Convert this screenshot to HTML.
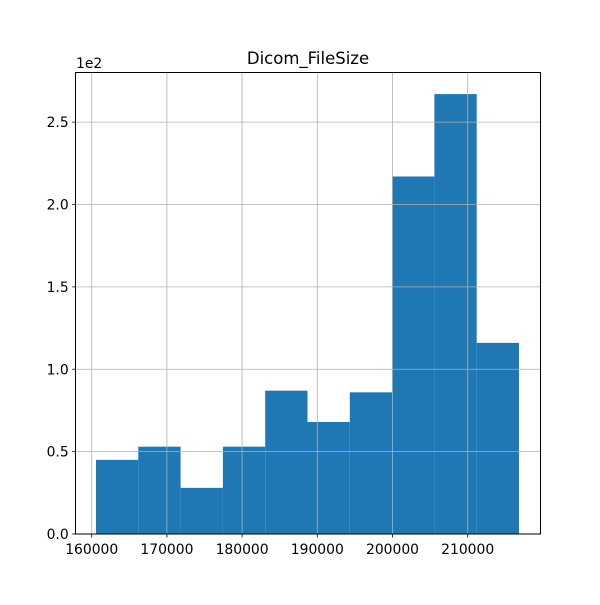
<!DOCTYPE html>
<html><head><meta charset="utf-8"><style>
body{margin:0;background:#fff}
svg text{font-family:"DejaVu Sans","Liberation Sans",sans-serif;font-size:13.9px;fill:#000}
</style></head><body>
<svg id="chart" width="600" height="600" viewBox="0 0 600 600" xmlns="http://www.w3.org/2000/svg">
<rect width="600" height="600" fill="#fff"/>
<g id="bars"></g>
<g id="grid"></g>
<g id="ticks"></g>
<rect x="75.5" y="72.5" width="465" height="461.5" fill="none" stroke="#000" stroke-width="1"/>
<text x="308" y="64" text-anchor="middle" font-size="16" style="font-size:16.5px">Dicom_FileSize</text>
<text x="76" y="68">1e2</text>
</svg>
<script>
const counts = [45, 53, 28, 53, 87, 68, 86, 217, 267, 116];
const binStart = 160570;
const binEnd = 216820;
const xTicks = [160000, 170000, 180000, 190000, 200000, 210000];
const yTicks = [0, 50, 100, 150, 200, 250];
const yTickLabels = ["0.0", "0.5", "1.0", "1.5", "2.0", "2.5"];

const L = 75.7, R = 540.3, T = 72.7, B = 534;
const xMin = 157870, xMax = 219655, yMax = 280;
const xs = v => L + (v - xMin) / (xMax - xMin) * (R - L);
const ys = v => B - v / yMax * (B - T);
const NS = "http://www.w3.org/2000/svg";
function mk(tag, attrs, parent) {
  const e = document.createElementNS(NS, tag);
  for (const k in attrs) e.setAttribute(k, attrs[k]);
  parent.appendChild(e);
  return e;
}
const bars = document.getElementById("bars");
const grid = document.getElementById("grid");
const ticks = document.getElementById("ticks");
const w = (binEnd - binStart) / counts.length;
counts.forEach((c, i) => {
  const x0 = xs(binStart + i * w), x1 = xs(binStart + (i + 1) * w);
  const r = mk("rect", {x: x0, y: ys(c), width: x1 - x0, height: ys(0) - ys(c), fill: "#1f77b4"}, bars);
  
  
});
xTicks.forEach(t => {
  const x = xs(t);
  const g = mk("line", {x1: x, x2: x, y1: T, y2: B, stroke: "#b0b0b0", "stroke-width": 0.8}, grid);
  
  
  const tk = mk("line", {x1: x, x2: x, y1: B, y2: B + 3.5, stroke: "#000", "stroke-width": 0.8}, ticks);
  
  
  const tx = mk("text", {x: x, y: B + 20, "text-anchor": "middle"}, ticks);
  tx.textContent = t;
  
  
});
yTicks.forEach((t, i) => {
  const y = ys(t);
  const g = mk("line", {x1: L, x2: R, y1: y, y2: y, stroke: "#b0b0b0", "stroke-width": 0.8}, grid);
  
  
  const tk = mk("line", {x1: L - 3.5, x2: L, y1: y, y2: y, stroke: "#000", "stroke-width": 0.8}, ticks);
  
  
  const tx = mk("text", {x: L - 7, y: y + 5, "text-anchor": "end"}, ticks);
  tx.textContent = yTickLabels[i];
  
  
});
</script>
</body></html>
